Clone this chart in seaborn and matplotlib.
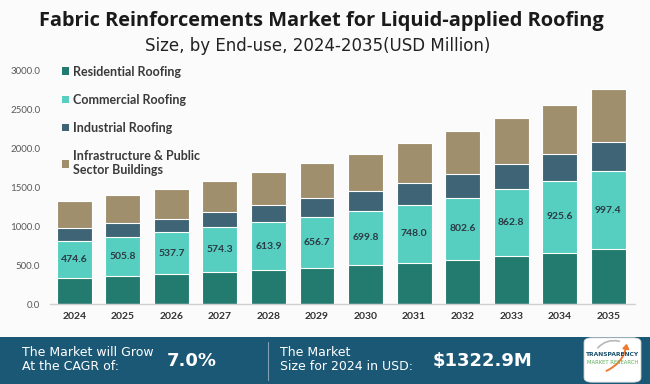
import seaborn as sns
import matplotlib.pyplot as plt
import numpy as np
from matplotlib.patches import Patch, Rectangle, FancyBboxPatch, FancyArrowPatch
from matplotlib.lines import Line2D

# values (USD Million)
years = ['2024', '2025', '2026', '2027', '2028', '2029',
         '2030', '2031', '2032', '2033', '2034', '2035']
residential = [336, 361, 387, 413, 439, 465, 503, 529, 568, 620, 658, 710]
commercial = [474.6, 505.8, 537.7, 574.3, 613.9, 656.7,
              699.8, 748.0, 802.6, 862.8, 925.6, 997.4]
industrial = [165, 170, 176, 192, 216, 237, 251, 280, 302, 319, 347, 379]
infrastructure = [347.3, 361, 375, 400, 430, 456, 477, 516, 555, 594, 633, 685]

labels = ['Residential Roofing', 'Commercial Roofing', 'Industrial Roofing',
          'Infrastructure & Public\nSector Buildings']
colors = ['#237a6f', '#56cfc1', '#3e6475', '#a08f6c']

cagr_text = '7.0%'
size_text = '$1322.9M'

BG = '#fbfbfb'
FOOT = '#1b5876'

sns.set_theme(style='white')
plt.rcParams['font.family'] = ['Lato', 'DejaVu Sans']

fig = plt.figure(figsize=(6.5, 3.84), dpi=100, facecolor=BG)
ax = fig.add_axes([50 / 650, 80 / 384, 585 / 650, 233 / 384])
ax.set_facecolor(BG)

# stacked bars drawn as cumulative layers, tallest first
series = [residential, commercial, industrial, infrastructure]
cum = np.cumsum(np.array(series, dtype=float), axis=0)
for i in range(3, -1, -1):
    sns.barplot(x=years, y=cum[i], color=colors[i], width=0.72, saturation=1,
                edgecolor='white', linewidth=0.8, ax=ax)

# labels in commercial segment
for j, v in enumerate(commercial):
    ax.text(j, residential[j] + v / 2, f'{v:.1f}', ha='center', va='center',
            fontsize=7.5, fontweight='bold', color='#2b3a44')

ax.set_ylim(0, 3000)
ax.set_xlim(-0.5, 11.55)
ax.set_yticks(np.arange(0, 3001, 500))
ax.set_yticklabels([f'{t:.1f}' for t in np.arange(0, 3001, 500)],
                   fontsize=7, color='#595959')
ax.tick_params(axis='y', length=0, pad=7)
ax.tick_params(axis='x', length=0, pad=6)
for lab in ax.get_xticklabels():
    lab.set_fontsize(7.5)
    lab.set_fontweight('bold')
    lab.set_color('#333333')
ax.set_xlabel('')
ax.set_ylabel('')
for s in ['top', 'right', 'left']:
    ax.spines[s].set_visible(False)
ax.spines['bottom'].set_color('#d0d0d0')
ax.spines['bottom'].set_linewidth(1)

handles = [Patch(facecolor=c, edgecolor='none') for c in colors]
leg = ax.legend(handles, labels, loc='upper left', bbox_to_anchor=(0.012, 1.045),
                frameon=False, handlelength=0.55, handleheight=0.55,
                handletextpad=0.3, labelspacing=1.3, borderaxespad=0,
                prop={'size': 9, 'weight': 'bold'})
for t in leg.get_texts():
    t.set_color('#3a3a3a')

# titles
fig.text(321 / 650, 1 - 21 / 384, 'Fabric Reinforcements Market for Liquid-applied Roofing',
         ha='center', va='center', fontsize=14.4, fontweight='bold', color='#1a1a1a',
         family=['Open Sans', 'DejaVu Sans'])
fig.text(318 / 650, 1 - 46 / 384, 'Size, by End-use, 2024-2035(USD Million)',
         ha='center', va='center', fontsize=12, color='#222222',
         family=['DejaVu Sans'])

# footer band
fig.patches.append(Rectangle((0, 0), 1, 47 / 384, transform=fig.transFigure,
                             facecolor=FOOT, edgecolor='none', zorder=0))
fy1, fy2 = 1 - 352 / 384, 1 - 367 / 384
fmid = 1 - 361 / 384
foot_font = ['DejaVu Sans']
fig.text(22 / 650, fy1, 'The Market will Grow', color='white', fontsize=9,
         va='center', family=foot_font)
fig.text(22 / 650, fy2, 'At the CAGR of:', color='white', fontsize=9,
         va='center', family=foot_font)
fig.text(167 / 650, fmid, cagr_text, color='white', fontsize=13, fontweight='bold',
         va='center', family=foot_font)
fig.lines.append(Line2D([268 / 650, 268 / 650], [4 / 384, 42 / 384],
                        transform=fig.transFigure, color='#7f9fb3', linewidth=0.8))
fig.text(280 / 650, fy1, 'The Market', color='white', fontsize=9,
         va='center', family=foot_font)
fig.text(280 / 650, fy2, 'Size for 2024 in USD:', color='white', fontsize=9,
         va='center', family=foot_font)
fig.text(433 / 650, fmid, size_text, color='white', fontsize=13, fontweight='bold',
         va='center', family=foot_font)

# logo
fig.patches.append(FancyBboxPatch((586 / 650, 3 / 384), 53 / 650, 42 / 384,
                                  boxstyle='round,pad=0.003,rounding_size=0.012',
                                  transform=fig.transFigure, facecolor='white',
                                  edgecolor='#d9d9d9', linewidth=0.6))
fig.patches.append(FancyArrowPatch((596 / 650, 1 - 350 / 384), (622 / 650, 1 - 342 / 384),
                                   connectionstyle='arc3,rad=-0.35', arrowstyle='-',
                                   transform=fig.transFigure, color='#b8b8b8', linewidth=1.2))
fig.patches.append(FancyArrowPatch((604 / 650, 1 - 372 / 384), (627 / 650, 1 - 341 / 384),
                                   connectionstyle='arc3,rad=0.3',
                                   arrowstyle='-|>,head_length=2.5,head_width=1.8',
                                   transform=fig.transFigure, color='#ee7a2f', linewidth=1.4))
fig.text(612.5 / 650, 1 - 355 / 384, 'TRANSPARENCY', ha='center', va='center',
         fontsize=4.3, fontweight='bold', color='#1b4f6e', family=foot_font)
fig.text(612.5 / 650, 1 - 362 / 384, 'MARKET RESEARCH', ha='center', va='center',
         fontsize=3.8, color='#5fae5a', family=foot_font)

fig.savefig('out.png', dpi=100, facecolor=BG)
